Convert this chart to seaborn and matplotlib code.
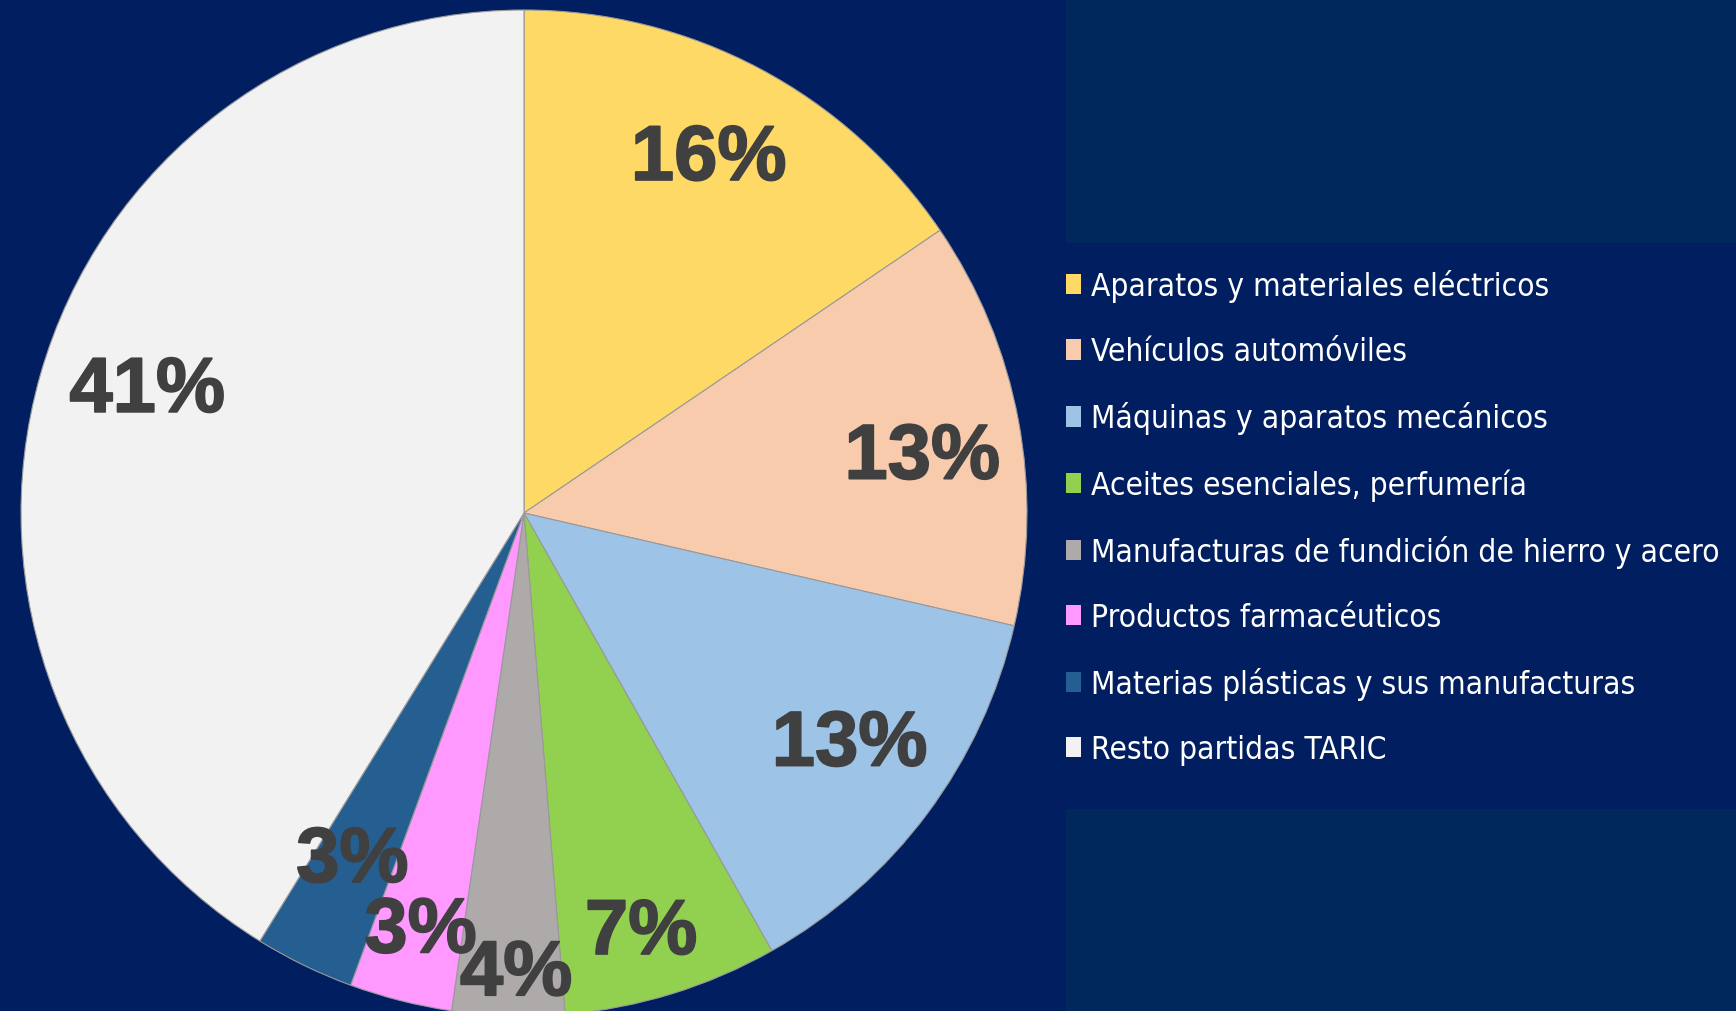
import matplotlib
matplotlib.use('Agg')
import matplotlib.pyplot as plt
import matplotlib.patheffects as pe
import seaborn as sns
import numpy as np
from matplotlib.patches import Patch, Rectangle

# data
categories = ['Aparatos y materiales eléctricos', 'Vehículos automóviles',
              'Máquinas y aparatos mecánicos', 'Aceites esenciales, perfumería',
              'Manufacturas de fundición de hierro y acero', 'Productos farmacéuticos',
              'Materias plásticas y sus manufacturas', 'Resto partidas TARIC']
shares = [15.5, 13.1, 13.2, 6.9, 3.6, 3.3, 3.2, 41.2]
pct_labels = ['16%', '13%', '13%', '7%', '4%', '3%', '3%', '41%']

colors = ['#FFD966', '#F8CBAD', '#9DC3E6', '#92D050', '#AEAAAA', '#FF99FF', '#255E91', '#F2F2F2']
# label placement (radius fraction, angle nudge in degrees), like Excel's best fit
label_dist = [0.80, 0.80, 0.79, 0.86, 0.91, 0.85, 0.765, 0.79]
label_turn = [0.6, -2.2, 1.7, -1.4, 0.8, 0.2, -0.6, -2.6]

bg = '#001E60'
panel = '#00285C'

sns.set_style('white')
plt.rcParams['font.family'] = ['Liberation Sans', 'DejaVu Sans']

W, H = 1736, 1012
fig = plt.figure(figsize=(W / 100, H / 100), dpi=100, facecolor=bg)

# lighter panels behind legend area
fig.patches.append(Rectangle((1066 / W, 1 - 244 / H), 1, 244 / H, transform=fig.transFigure,
                             facecolor=panel, edgecolor='none', zorder=0))
fig.patches.append(Rectangle((1066 / W, 0), 1, (H - 810) / H, transform=fig.transFigure,
                             facecolor=panel, edgecolor='none', zorder=0))

ax = fig.add_axes([0, 0, 1, 1])
ax.set_facecolor('none')

wedges, _ = ax.pie(shares, colors=colors, startangle=90, counterclock=False, radius=1,
                   wedgeprops=dict(edgecolor='#9a9a9a', linewidth=0.8))

cx, cy, r = 524, 514, 503
ax.set_xlim(-cx / r, (W - cx) / r)
ax.set_ylim(-(H - cy) / r, cy / r)
ax.set_aspect('equal')
ax.axis('off')

for w, lab, d, t in zip(wedges, pct_labels, label_dist, label_turn):
    mid = np.deg2rad((w.theta1 + w.theta2) / 2 + t)
    ax.text(d * np.cos(mid), d * np.sin(mid) - 0.008, lab, ha='center', va='center',
            fontsize=56, fontweight='bold', color='#404040',
            path_effects=[pe.withStroke(linewidth=1.3, foreground='#404040')])

handles = [Patch(facecolor=c, edgecolor='none') for c in colors]
fig.legend(handles, categories, loc='upper left', bbox_to_anchor=(1038 / W, 1 - 242 / H),
           frameon=False, handlelength=0.45, handleheight=0.62, handletextpad=0.32,
           labelspacing=1.08, labelcolor='white',
           prop=dict(family=['DejaVu Sans'], stretch='condensed', size=22.7))

plt.savefig('out.png', dpi=100, facecolor=bg)
